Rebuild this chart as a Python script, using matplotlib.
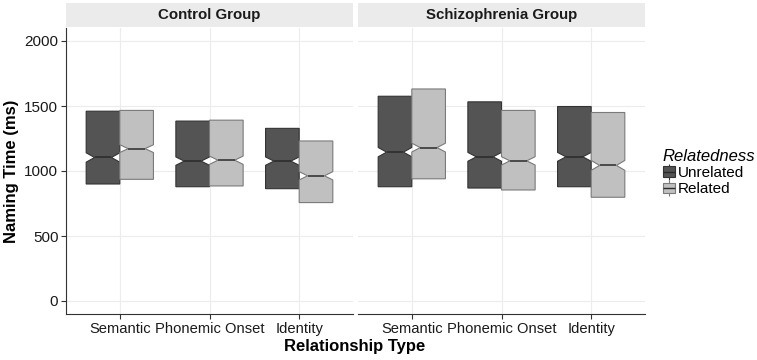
import matplotlib.pyplot as plt
import numpy as np
from matplotlib.patches import Patch, Rectangle
from matplotlib.lines import Line2D
from matplotlib.legend_handler import HandlerTuple

plt.rcParams['font.family'] = ['Liberation Sans', 'DejaVu Sans']

categories = ['Semantic', 'Phonemic Onset', 'Identity']
groups = ['Control Group', 'Schizophrenia Group']
relatedness = ['Unrelated', 'Related']

# box stats (ms): lower hinge, median, upper hinge, notch half-height
ctrl_unrel_q1 = [900, 879, 864]
ctrl_unrel_med = [1104, 1076, 1076]
ctrl_unrel_q3 = [1460, 1384, 1328]
ctrl_unrel_notch = [36, 32, 32]

ctrl_rel_q1 = [936, 885, 757]
ctrl_rel_med = [1172, 1083, 963]
ctrl_rel_q3 = [1466, 1391, 1231]
ctrl_rel_notch = [30, 32, 32]

scz_unrel_q1 = [879, 869, 879]
scz_unrel_med = [1145, 1109, 1109]
scz_unrel_q3 = [1575, 1532, 1496]
scz_unrel_notch = [36, 34, 34]

scz_rel_q1 = [940, 854, 798]
scz_rel_med = [1180, 1078, 1043]
scz_rel_q3 = [1631, 1466, 1450]
scz_rel_notch = [34, 32, 38]

data = {
    ('Control Group', 'Unrelated'): (ctrl_unrel_q1, ctrl_unrel_med, ctrl_unrel_q3, ctrl_unrel_notch),
    ('Control Group', 'Related'): (ctrl_rel_q1, ctrl_rel_med, ctrl_rel_q3, ctrl_rel_notch),
    ('Schizophrenia Group', 'Unrelated'): (scz_unrel_q1, scz_unrel_med, scz_unrel_q3, scz_unrel_notch),
    ('Schizophrenia Group', 'Related'): (scz_rel_q1, scz_rel_med, scz_rel_q3, scz_rel_notch),
}

fills = {'Unrelated': '#545454', 'Related': '#c0c0c0'}
edges = {'Unrelated': '#333333', 'Related': '#7a7a7a'}
offsets = {'Unrelated': -0.1875, 'Related': 0.1875}

W, H = 757, 360
fig = plt.figure(figsize=(W / 100, H / 100), dpi=100)

panel_left = [66, 358]
panel_w, panel_top, panel_bot = 287, 28, 314

for i, grp in enumerate(groups):
    ax = fig.add_axes([panel_left[i] / W, (H - panel_bot) / H,
                       panel_w / W, (panel_bot - panel_top) / H])
    x = np.arange(1, len(categories) + 1)
    for rel in relatedness:
        q1, med, q3, notch = data[(grp, rel)]
        stats = []
        for k in range(len(categories)):
            stats.append(dict(med=med[k], q1=q1[k], q3=q3[k],
                              whislo=q1[k], whishi=q3[k],
                              cilo=med[k] - notch[k], cihi=med[k] + notch[k],
                              fliers=[]))
        ax.bxp(stats, positions=x + offsets[rel], widths=0.375,
               shownotches=True, showcaps=False, showfliers=False,
               patch_artist=True,
               boxprops=dict(facecolor=fills[rel], edgecolor=edges[rel], linewidth=0.8),
               medianprops=dict(color='#2a2a2a', linewidth=1.1),
               whiskerprops=dict(linewidth=0))

    ax.set_xlim(0.4, 3.6)
    ax.set_ylim(-100, 2100)
    ax.set_xticks(x)
    ax.set_xticklabels(categories, fontsize=10.6, color='#1a1a1a')
    ax.set_yticks([0, 500, 1000, 1500, 2000])
    ax.grid(True, color='#ececec', linewidth=0.8)
    ax.set_axisbelow(True)
    for s in ['top', 'right']:
        ax.spines[s].set_visible(False)
    ax.spines['bottom'].set_color('#333333')
    ax.spines['left'].set_color('#333333')
    ax.tick_params(axis='both', color='#333333', length=3.5, width=0.8, pad=2)
    if i == 0:
        ax.set_yticklabels(['0', '500', '1000', '1500', '2000'], fontsize=11, color='#1a1a1a')
        ax.set_ylabel('Naming Time (ms)', fontsize=12, fontweight='bold', labelpad=4)
    else:
        ax.spines['left'].set_visible(False)
        ax.tick_params(axis='y', left=False, labelleft=False)

    # facet strip
    strip_h = 24 / (panel_bot - panel_top)
    ax.add_patch(Rectangle((0, 1.0035), 1, strip_h, transform=ax.transAxes,
                           facecolor='#ebebeb', edgecolor='none', clip_on=False))
    ax.text(0.5, 1.0035 + strip_h / 2, grp, transform=ax.transAxes,
            ha='center', va='center', fontsize=10.8, fontweight='bold', color='#1a1a1a')

fig.text(355 / W, 1 - 347 / H, 'Relationship Type', ha='center', va='center',
         fontsize=12, fontweight='bold')

# legend keys drawn like small boxplots
handles = []
for r in relatedness:
    whisker = Line2D([], [], marker='|', markersize=12, markeredgewidth=0.8,
                     color=edges[r], linestyle='none')
    box = Patch(facecolor=fills[r], edgecolor=edges[r], linewidth=0.8)
    median = Line2D([], [], marker='_', markersize=9, markeredgewidth=1.0,
                    color='#2a2a2a', linestyle='none')
    handles.append((whisker, box, median))
leg = fig.legend(handles=handles, labels=relatedness, loc='upper left',
                 bbox_to_anchor=(652 / W, 1 - 138 / H),
                 handler_map={tuple: HandlerTuple(ndivide=1, pad=0)},
                 frameon=False, fontsize=11, title='Relatedness',
                 title_fontproperties={'style': 'italic', 'size': 12},
                 handlelength=0.8, handleheight=0.7, handletextpad=0.2,
                 labelspacing=0.15, borderpad=0.2, alignment='left')

fig.savefig('out.png', dpi=100)
